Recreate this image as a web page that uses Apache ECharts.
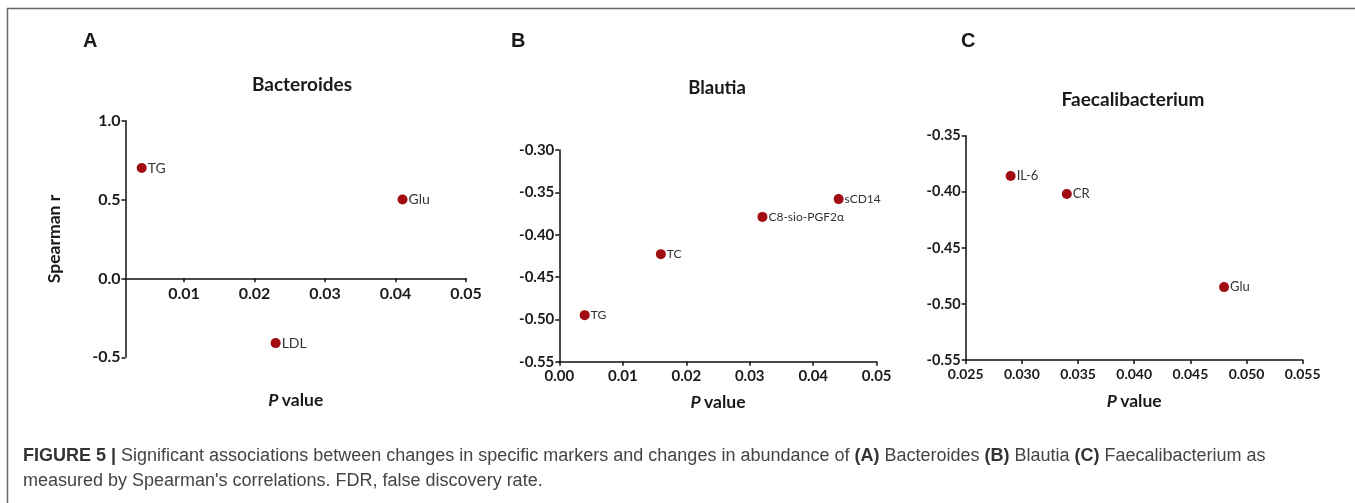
<!DOCTYPE html>
<html>
<head>
<meta charset="utf-8">
<script src="https://cdn.jsdelivr.net/npm/echarts@6/dist/echarts.min.js"></script>
<style>
  html, body { margin: 0; padding: 0; background: #fff; }
  #chart { width: 1355px; height: 503px; }
</style>
</head>
<body>
<div id="chart"></div>
<script>
// panel A - Bacteroides
const labelsA = ['TG', 'Glu', 'LDL']
const pA = [0.004, 0.041, 0.023]
const rA = [0.70, 0.50, -0.41]

// panel B - Blautia
const labelsB = ['TG', 'TC', 'C8-sio-PGF2α', 'sCD14']
const pB = [0.004, 0.016, 0.032, 0.044]
const rB = [-0.495, -0.423, -0.379, -0.358]

// panel C - Faecalibacterium
const labelsC = ['IL-6', 'CR', 'Glu']
const pC = [0.029, 0.034, 0.048]
const rC = [-0.386, -0.402, -0.485]

const ticksA = [0.01, 0.02, 0.03, 0.04, 0.05]

const FONT = 'Lato, Carlito, sans-serif'
const DOT = '#a00c10'
const INK = '#1a1a1a'

function points(labels, xs, ys) {
  return labels.map((name, i) => ({ name: name, value: [xs[i], ys[i]] }))
}

const tickLabel = (digits, size) => ({
  fontFamily: FONT,
  fontWeight: 'bold',
  fontSize: size,
  color: INK,
  formatter: (v) => Number(v).toFixed(digits)
})

const pValueName = {
  name: '{i|P} {b|value}',
  nameLocation: 'middle',
  nameTextStyle: {
    rich: {
      i: { fontFamily: FONT, fontWeight: 'bold', fontStyle: 'italic', fontSize: 17.5, color: INK },
      b: { fontFamily: FONT, fontWeight: 'bold', fontSize: 17.5, color: INK }
    }
  }
}

const axisLine = { show: true, onZero: false, lineStyle: { color: '#111', width: 1.5 } }
const axisTick = { show: true, length: 4, lineStyle: { color: '#111', width: 1.5 } }

const letterStyle = { fontFamily: 'Liberation Sans, Arial', fontWeight: 'bold', fontSize: 20, color: INK }
const titleStyle = (size) => ({ fontFamily: FONT, fontWeight: 'bold', fontSize: size, color: INK })

const chart = echarts.init(document.getElementById('chart'))

chart.setOption({
  backgroundColor: '#fff',
  animation: false,
  title: [
    { text: 'A', left: 83, top: 31, padding: 0, textStyle: letterStyle },
    { text: 'B', left: 511, top: 31, padding: 0, textStyle: letterStyle },
    { text: 'C', left: 961, top: 31, padding: 0, textStyle: letterStyle },
    { text: 'Bacteroides', left: 302, top: 75, padding: 0, textAlign: 'center', textStyle: titleStyle(19) },
    { text: 'Blautia', left: 717, top: 79, padding: 0, textAlign: 'center', textStyle: titleStyle(18.5) },
    { text: 'Faecalibacterium', left: 1133, top: 90, padding: 0, textAlign: 'center', textStyle: titleStyle(19) }
  ],
  grid: [
    { left: 125.5, top: 120.7, width: 340.5, height: 236.6, outerBoundsMode: 'none' },
    { left: 559.3, top: 150, width: 317.4, height: 211.7, outerBoundsMode: 'none' },
    { left: 965.7, top: 135.7, width: 337, height: 224.3, outerBoundsMode: 'none' }
  ],
  xAxis: [
    {
      // drawn at r = 0, inside the plot
      gridIndex: 0, type: 'value', min: 0.0017, max: 0.05, offset: -79,
      axisLine: axisLine,
      axisTick: Object.assign({ customValues: ticksA }, axisTick),
      axisLabel: Object.assign({ customValues: ticksA, margin: 8 }, tickLabel(2, 16)),
      splitLine: { show: false },
      ...pValueName, nameGap: 113
    },
    {
      gridIndex: 1, type: 'value', min: 0, max: 0.05, interval: 0.01,
      axisLine: axisLine, axisTick: axisTick,
      axisLabel: Object.assign({ margin: 7 }, tickLabel(2, 15)),
      splitLine: { show: false },
      ...pValueName, nameGap: 32
    },
    {
      gridIndex: 2, type: 'value', min: 0.025, max: 0.055, interval: 0.005,
      axisLine: axisLine, axisTick: axisTick,
      axisLabel: Object.assign({ margin: 7 }, tickLabel(3, 14)),
      splitLine: { show: false },
      ...pValueName, nameGap: 32
    }
  ],
  yAxis: [
    {
      gridIndex: 0, type: 'value', min: -0.5, max: 1.0, interval: 0.5,
      axisLine: axisLine, axisTick: axisTick,
      axisLabel: Object.assign({ margin: 5 }, tickLabel(1, 16)),
      splitLine: { show: false },
      name: 'Spearman r', nameLocation: 'middle', nameGap: 62,
      nameTextStyle: { fontFamily: FONT, fontWeight: 'bold', fontSize: 17.5, color: INK }
    },
    {
      gridIndex: 1, type: 'value', min: -0.55, max: -0.30, interval: 0.05,
      axisLine: axisLine, axisTick: axisTick,
      axisLabel: Object.assign({ margin: 5 }, tickLabel(2, 15)),
      splitLine: { show: false }
    },
    {
      gridIndex: 2, type: 'value', min: -0.55, max: -0.35, interval: 0.05,
      axisLine: axisLine, axisTick: axisTick,
      axisLabel: Object.assign({ margin: 5 }, tickLabel(2, 14.5)),
      splitLine: { show: false }
    }
  ],
  series: [
    [labelsA, pA, rA, 14], [labelsB, pB, rB, 12], [labelsC, pC, rC, 13]
  ].map((d, i) => ({
    type: 'scatter',
    xAxisIndex: i,
    yAxisIndex: i,
    symbolSize: 10,
    itemStyle: { color: DOT, opacity: 1 },
    label: {
      show: true, position: 'right', distance: 1,
      formatter: '{b}', fontFamily: FONT, fontSize: d[3], color: '#333'
    },
    data: points(d[0], d[1], d[2])
  })),
  graphic: [
    {
      type: 'polyline',
      shape: { points: [[7.5, 503], [7.5, 8.5], [1356, 8.5]] },
      style: { stroke: '#666', lineWidth: 1.5, fill: null }
    },
    {
      type: 'text', left: 23, top: 447,
      style: {
        text: '{b|FIGURE 5 |} Significant associations between changes in specific markers and changes in abundance of {b|(A)} Bacteroides {b|(B)} Blautia {b|(C)} Faecalibacterium as',
        rich: {
          b: { fontFamily: 'Liberation Sans, Arial', fontWeight: 'bold', fontSize: 18, fill: '#333' }
        },
        fontFamily: 'Liberation Sans, Arial', fontSize: 18, fill: '#444'
      }
    },
    {
      type: 'text', left: 23, top: 472,
      style: {
        text: "measured by Spearman's correlations. FDR, false discovery rate.",
        fontFamily: 'Liberation Sans, Arial', fontSize: 18, fill: '#444'
      }
    }
  ]
})
</script>
</body>
</html>
